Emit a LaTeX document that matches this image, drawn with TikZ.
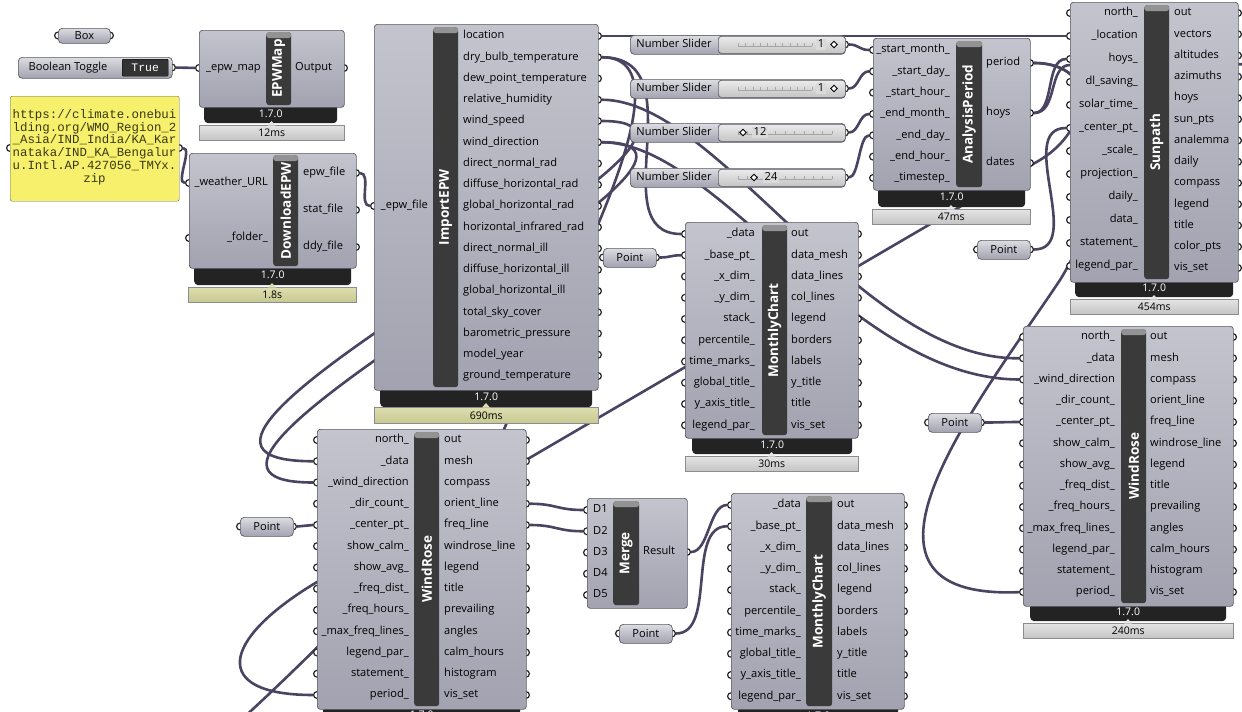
\documentclass[tikz,border=0pt]{standalone}
\usepackage{fontspec}
\setmainfont{Open Sans}
\setmonofont{Liberation Mono}
\usetikzlibrary{shapes.geometric}
\definecolor{wirec}{HTML}{4A4361}
\definecolor{bodyt}{HTML}{C4C4CE}
\definecolor{bodyb}{HTML}{A2A2B0}
\definecolor{edgec}{HTML}{5A5A64}
\definecolor{barc}{HTML}{3A3A3A}
\definecolor{footc}{HTML}{232323}
\definecolor{timet}{HTML}{E4E4E4}
\definecolor{timeb}{HTML}{C4C4C4}
\definecolor{slowt}{HTML}{DEDEB0}
\definecolor{slowb}{HTML}{C8C890}
\definecolor{panelc}{HTML}{F6F06C}
\definecolor{paneltxt}{HTML}{3A3812}
\definecolor{sliderc}{HTML}{DADADA}
\pgfdeclarelayer{paper}
\pgfdeclarelayer{wires}
\pgfdeclarelayer{ports}
\pgfsetlayers{paper,wires,ports,main}
\newcommand{\lblfont}{\fontsize{11.1}{13}\selectfont}
\tikzset{
  sz/.style 2 args={minimum width=#1pt, minimum height=#2pt},
  wire/.style={draw=wirec, line width=2.6pt},
  body/.style={draw=edgec, line width=0.7pt, rounded corners=3pt, top color=bodyt, bottom color=bodyb, anchor=north west, inner sep=0pt},
  bar/.style={fill=barc, rounded corners=3pt, anchor=north west, inner sep=0pt,
    path picture={\fill[barc!55!white] (path picture bounding box.north west) rectangle ([yshift=-6pt]path picture bounding box.north east);}},
  barlbl/.style={rotate=90, text=white, inner sep=0pt, font=\fontsize{13.5}{14}\selectfont\bfseries},
  foot/.style={fill=footc, rounded corners=4pt, anchor=north west, inner sep=0pt, text=white, font=\fontsize{10.5}{11}\selectfont},
  tbox/.style={draw=edgec!70, line width=0.6pt, top color=timet, bottom color=timeb, anchor=north west, inner sep=0pt, font=\fontsize{10.5}{11}\selectfont},
  tslow/.style={tbox, top color=slowt, bottom color=slowb},
  pin/.style={circle, draw=black!85, fill=white, line width=1.2pt, inner sep=0pt, minimum size=6.8pt},
  lbl/.style={inner sep=0pt, font=\lblfont, text height=8.5pt, text depth=2.7pt},
  inl/.style={lbl, anchor=east},
  outl/.style={lbl, anchor=west},
  pill/.style={draw=edgec, line width=0.7pt, rounded corners=4pt, top color=bodyt!60!white, bottom color=bodyb, anchor=north west, inner sep=0pt, font=\lblfont},
  sval/.style={draw=edgec, line width=0.7pt, rounded corners=3pt, top color=white!92!black, bottom color=sliderc!90!black, anchor=north west, inner sep=0pt},
  knob/.style={diamond, draw=black, fill=white, line width=0.9pt, inner sep=0pt, minimum width=7pt, minimum height=7pt},
  tick/.style={draw=black!35, line width=0.5pt},
  truebox/.style={fill=black!80, draw=black, rounded corners=1pt, anchor=north west, inner sep=0pt, text=white, font=\ttfamily\fontsize{11.5}{12}\selectfont},
  panel/.style={fill=panelc, draw=black!60, rounded corners=2pt, anchor=north west, inner sep=0pt},
  pantxt/.style={align=center, text=paneltxt, inner sep=0pt, font=\ttfamily\fontsize{12.4}{12.8}\selectfont}
}
\begin{document}
\catcode`\_=12
\begin{tikzpicture}[x=1pt,y=-1pt]
\useasboundingbox (0,0) rectangle (1242,712);
\begin{pgfonlayer}{paper}\fill[white] (0,0) rectangle (1242,712);\end{pgfonlayer}

% parameters
\node[pill, sz={52}{15}] (box) at (58,28) {Box};
\node[pill, sz={154}{21}] (tog) at (18,57) {};
\node[lbl] (tog-t) at (68,67.5) {Boolean Toggle};
\node[truebox, sz={46}{17}] (tog-v) at (122,59) {True};
\node[panel, sz={169}{105}] (pan) at (10,96) {};
\node[pantxt] (pan-t) at (94.5,147) {https://climate.onebui\\lding.org/WMO_Region_2\\_Asia/IND_India/KA_Kar\\nataka/IND_KA_Bengalur\\u.Intl.AP.427056_TMYx.\\zip};
\begin{pgfonlayer}{ports}
\node[pin] (box-i) at (58,35.5) {};
\node[pin] (box-o) at (110,35.5) {};
\node[pin] (tog-o) at (172,67.5) {};
\node[pin] (pan-i) at (10,148) {};
\node[pin] (pan-o) at (179,148) {};
\end{pgfonlayer}
\foreach \c/\x/\y in {pti/603/248, pts/977/240, ptr/928/413, ptl/240/517, ptb/619/624} {
  \node[pill, sz={53}{19}] (\c) at (\x,\y) {Point};
  \begin{pgfonlayer}{ports}
  \node[pin] (\c-i) at (\x,\y+9.5) {};
  \node[pin] (\c-o) at (\x+53,\y+9.5) {};
  \end{pgfonlayer}
}
\foreach \k/\y/\v/\vx/\dx/\te in {1/35/1/821/834/812, 2/79/1/821/834/812, 3/123/12/760/743/832, 4/168/24/771/754/832} {
  \node[pill, sz={215}{19}] (s\k) at (630,\y) {};
  \node[sval, sz={127}{17}] (s\k-v) at (718,\y+1) {};
  \node[lbl] (s\k-t) at (674,\y+9.5) {Number Slider};
  \draw[tick] (738,\y+11) -- (\te,\y+11);
  \foreach \m in {0,...,10} \draw[tick] ({738+(\te-738)*\m/10},\y+11) -- ++(0,-3);
  \node[lbl, fill=sliderc, inner xsep=1.5pt] (s\k-n) at (\vx,\y+9.5) {\v};
  \node[knob] (s\k-d) at (\dx,\y+9.5) {};
  \begin{pgfonlayer}{ports}\node[pin] (s\k-o) at (845,\y+9.5) {};\end{pgfonlayer}
}

% EPWMap
\node[foot, sz={133}{19}] (map-f) at (204,104) {1.7.0};
\node[tbox, sz={145}{15}] (map-tm) at (199,125) {12ms};
\node[body, sz={145}{77}] (map) at (199,30) {};
\node[bar, sz={25}{73}] (map-b) at (266,32) {};
\node[barlbl] (map-t) at (map-b) {EPWMap};
\node[inl] (map-il1) at (261,68) {_epw_map};
\node[outl] (map-ol1) at (295,68) {Output};
\begin{pgfonlayer}{ports}
\node[pin] (map-i1) at (199,68) {};
\node[pin] (map-o1) at (344,68) {};
\end{pgfonlayer}

% DownloadEPW
\node[foot, sz={157}{20}] (dl-f) at (194,265) {1.7.0};
\node[tslow, sz={168}{15}] (dl-tm) at (188,287) {1.8s};
\node[body, sz={167}{115}] (dl) at (189,153) {};
\node[bar, sz={25}{111}] (dl-b) at (273,155) {};
\node[barlbl] (dl-t) at (dl-b) {DownloadEPW};
\foreach \n/\y [count=\i] in {_weather_URL/183, _folder_/238} {
  \node[inl] (dl-il\i) at (268,\y) {\n};
  \begin{pgfonlayer}{ports}\node[pin] (dl-i\i) at (189,\y) {};\end{pgfonlayer}
}
\foreach \n/\y [count=\i] in {epw_file/173, stat_file/210, ddy_file/247} {
  \node[outl] (dl-ol\i) at (303,\y) {\n};
  \begin{pgfonlayer}{ports}\node[pin] (dl-o\i) at (356,\y) {};\end{pgfonlayer}
}

% ImportEPW
\node[foot, sz={212}{20}] (imp-f) at (380,387) {1.7.0};
\node[tslow, sz={224}{16}] (imp-tm) at (374,407) {690ms};
\node[body, sz={224}{366}] (imp) at (374,24) {};
\node[bar, sz={25}{360}] (imp-b) at (433,27) {};
\node[barlbl] (imp-t) at (imp-b) {ImportEPW};
\node[inl] (imp-il1) at (428,206) {_epw_file};
\begin{pgfonlayer}{ports}\node[pin] (imp-i1) at (374,206) {};\end{pgfonlayer}
\foreach \n [count=\i] in {location,dry_bulb_temperature,dew_point_temperature,relative_humidity,wind_speed,wind_direction,direct_normal_rad,diffuse_horizontal_rad,global_horizontal_rad,horizontal_infrared_rad,direct_normal_ill,diffuse_horizontal_ill,global_horizontal_ill,total_sky_cover,barometric_pressure,model_year,ground_temperature} {
  \node[outl] (imp-ol\i) at (463,36+21.25*\i-21.25) {\n};
  \begin{pgfonlayer}{ports}\node[pin] (imp-o\i) at (598,36+21.25*\i-21.25) {};\end{pgfonlayer}
}

% AnalysisPeriod
\node[foot, sz={147}{20}] (ap-f) at (878,187) {1.7.0};
\node[tbox, sz={158}{15}] (ap-tm) at (872,209) {47ms};
\node[body, sz={157}{152}] (ap) at (873,38) {};
\node[bar, sz={26}{146}] (ap-b) at (956,41) {};
\node[barlbl] (ap-t) at (ap-b) {AnalysisPeriod};
\foreach \n [count=\i] in {_start_month_,_start_day_,_start_hour_,_end_month_,_end_day_,_end_hour_,_timestep_} {
  \node[inl] (ap-il\i) at (950,50+21.33*\i-21.33) {\n};
  \begin{pgfonlayer}{ports}\node[pin] (ap-i\i) at (873,50+21.33*\i-21.33) {};\end{pgfonlayer}
}
\foreach \n/\y [count=\i] in {period/63, hoys/113, dates/163} {
  \node[outl] (ap-ol\i) at (986,\y) {\n};
  \begin{pgfonlayer}{ports}\node[pin] (ap-o\i) at (1030,\y) {};\end{pgfonlayer}
}

% Sunpath
\node[foot, sz={158}{18}] (sun-f) at (1075,279) {1.7.0};
\node[tbox, sz={168}{15}] (sun-tm) at (1070,299) {454ms};
\node[body, sz={168}{280}] (sun) at (1070,2) {};
\node[bar, sz={25}{274}] (sun-b) at (1144,5) {};
\node[barlbl] (sun-t) at (sun-b) {Sunpath};
\foreach \n [count=\i] in {north_,_location,hoys_,dl_saving_,solar_time_,_center_pt_,_scale_,projection_,daily_,data_,statement_,legend_par_} {
  \node[inl] (sun-il\i) at (1138,13+23*\i-23) {\n};
  \begin{pgfonlayer}{ports}\node[pin] (sun-i\i) at (1070,13+23*\i-23) {};\end{pgfonlayer}
}
\foreach \n [count=\i] in {out,vectors,altitudes,azimuths,hoys,sun_pts,analemma,daily,compass,legend,title,color_pts,vis_set} {
  \node[outl] (sun-ol\i) at (1174,13+21.25*\i-21.25) {\n};
  \begin{pgfonlayer}{ports}\node[pin] (sun-o\i) at (1238,13+21.25*\i-21.25) {};\end{pgfonlayer}
}

% MonthlyChart
\node[foot, sz={160}{19}] (mct-f) at (692,435) {1.7.0};
\node[tbox, sz={173}{15}] (mct-tm) at (685,456) {30ms};
\node[body, sz={173}{216}] (mct) at (685,222) {};
\node[bar, sz={25}{210}] (mct-b) at (762,225) {};
\node[barlbl] (mct-t) at (mct-b) {MonthlyChart};
\node[foot, sz={160}{19}] (mcb-f) at (738,706) {1.7.0};
\node[body, sz={173}{216}] (mcb) at (731,493) {};
\node[bar, sz={26}{210}] (mcb-b) at (806,496) {};
\node[barlbl] (mcb-t) at (mcb-b) {MonthlyChart};
\foreach \c/\xa/\xb/\y in {mct/685/858/234, mcb/731/904/505} {
  \foreach \n [count=\i] in {_data,_base_pt_,_x_dim_,_y_dim_,stack_,percentile_,time_marks_,global_title_,y_axis_title_,legend_par_} {
    \node[inl] (\c-il\i) at (\xa+70,\y+21.25*\i-21.25) {\n};
    \begin{pgfonlayer}{ports}\node[pin] (\c-i\i) at (\xa,\y+21.25*\i-21.25) {};\end{pgfonlayer}
  }
  \foreach \n [count=\i] in {out,data_mesh,data_lines,col_lines,legend,borders,labels,y_title,title,vis_set} {
    \node[outl] (\c-ol\i) at (\xa+106,\y+21.25*\i-21.25) {\n};
    \begin{pgfonlayer}{ports}\node[pin] (\c-o\i) at (\xb,\y+21.25*\i-21.25) {};\end{pgfonlayer}
  }
}

% WindRose
\node[foot, sz={196}{18}] (wrr-f) at (1030,603) {1.7.0};
\node[tbox, sz={210}{15}] (wrr-tm) at (1023,623) {240ms};
\node[body, sz={210}{280}] (wrr) at (1023,326) {};
\node[bar, sz={25}{274}] (wrr-b) at (1121,329) {};
\node[barlbl] (wrr-t) at (wrr-b) {WindRose};
\node[foot, sz={197}{18}] (wrl-f) at (323,706) {1.7.0};
\node[body, sz={209}{280}] (wrl) at (317,429) {};
\node[bar, sz={25}{274}] (wrl-b) at (414,432) {};
\node[barlbl] (wrl-t) at (wrl-b) {WindRose};
\foreach \c/\xa/\xb/\y in {wrl/317/526/440, wrr/1023/1233/337} {
  \foreach \n [count=\i] in {north_,_data,_wind_direction,_dir_count_,_center_pt_,show_calm_,show_avg_,_freq_dist_,_freq_hours_,_max_freq_lines_,legend_par_,statement_,period_} {
    \node[inl] (\c-il\i) at (\xa+92,\y+21.25*\i-21.25) {\n};
    \begin{pgfonlayer}{ports}\node[pin] (\c-i\i) at (\xa,\y+21.25*\i-21.25) {};\end{pgfonlayer}
  }
  \foreach \n [count=\i] in {out,mesh,compass,orient_line,freq_line,windrose_line,legend,title,prevailing,angles,calm_hours,histogram,vis_set} {
    \node[outl] (\c-ol\i) at (\xa+127,\y+21.25*\i-21.25) {\n};
    \begin{pgfonlayer}{ports}\node[pin] (\c-o\i) at (\xb,\y+21.25*\i-21.25) {};\end{pgfonlayer}
  }
}

% Merge
\node[body, sz={100}{110}] (mrg) at (587,498) {};
\node[bar, sz={26}{104}] (mrg-b) at (613,501) {};
\node[barlbl] (mrg-t) at (mrg-b) {Merge};
\foreach \i in {1,...,5} {
  \node[outl] (mrg-il\i) at (593,510+21.25*\i-21.25) {D\i};
  \begin{pgfonlayer}{ports}\node[pin] (mrg-i\i) at (587,510+21.25*\i-21.25) {};\end{pgfonlayer}
}
\node[outl] (mrg-ol1) at (643,552) {Result};
\begin{pgfonlayer}{ports}\node[pin] (mrg-o1) at (687,552) {};\end{pgfonlayer}

\foreach \x/\y/\c in {271.5/125/timet, 272/287/slowt, 486/407/slowt, 951/209/timet, 1154/299/timet, 771.5/456/timet, 1128/623/timet}
  \fill[\c] (\x-4,\y+0.6) -- (\x,\y-4) -- (\x+4,\y+0.6) -- cycle;

% wires
\begin{pgfonlayer}{wires}
\coordinate (offR) at (1300,64);
\coordinate (offB) at (230,730);
\draw[wire] (tog-o) -- (map-i1);
\draw[wire] (pan-o) .. controls +(14,0) and +(-14,0) .. (dl-i1);
\draw[wire] (dl-o1) .. controls +(16,0) and +(-16,0) .. (imp-i1);
\draw[wire] (imp-o1) -- (sun-i2);
\foreach \a/\b in {s1/1, s2/2, s3/4, s4/5}
  \draw[wire] (\a-o) .. controls +(14,0) and +(-14,0) .. (ap-i\b);
\draw[wire] (ap-o2) .. controls +(25,0) and +(-25,0) .. (sun-i3);
\draw[wire] (ap-o2) .. controls +(28,0) and +(-22,0) .. (1070,65) -- (offR);
\draw[wire] (ap-o1) .. controls (1122,63) and (1110,200) .. (1060,280) .. controls (980,400) and (820,600) .. (wrr-i13);
\draw[wire] (ap-o1) .. controls (1100,63) and (1090,130) .. (1040,160) -- (317,582) .. controls (220,640) and (210,695) .. (wrl-i13);
\draw[wire] (pts-o) .. controls +(55,0) and +(-55,0) .. (sun-i6);
\draw[wire] (imp-o2) .. controls +(100,0) and (600,234) .. (mct-i1);
\draw[wire] (imp-o2) .. controls +(100,0) and (560,300) .. (505,427) .. controls (480,485) and (330,640) .. (offB);
\draw[wire] (imp-o4) .. controls +(120,0) and (860,360) .. (wrr-i2);
\draw[wire] (imp-o6) .. controls +(120,0) and (850,379) .. (wrr-i3);
\draw[wire] (imp-o5) .. controls +(200,0) and +(-255,0) .. (wrl-i2);
\draw[wire] (imp-o6) .. controls +(200,0) and +(-235,0) .. (wrl-i3);
\draw[wire] (pti-o) .. controls +(14,0) and +(-14,0) .. (mct-i2);
\draw[wire] (ptr-o) .. controls +(20,0) and +(-20,0) .. (wrr-i5);
\draw[wire] (ptl-o) .. controls +(12,0) and +(-12,0) .. (wrl-i5);
\draw[wire] (wrl-o4) .. controls +(30,0) and +(-30,0) .. (mrg-i1);
\draw[wire] (wrl-o5) .. controls +(30,0) and +(-30,0) .. (mrg-i2);
\draw[wire] (mrg-o1) .. controls +(22,0) and +(-22,0) .. (mcb-i1);
\draw[wire] (ptb-o) .. controls +(45,0) and +(-45,0) .. (mcb-i2);
\end{pgfonlayer}
\end{tikzpicture}
\end{document}
